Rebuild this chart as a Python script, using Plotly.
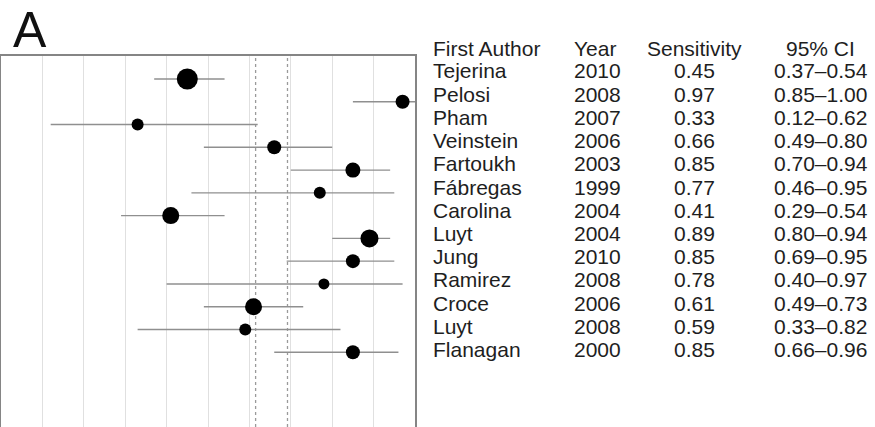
import plotly.graph_objects as go

# Study-level sensitivity with 95% confidence intervals
authors = ["Tejerina", "Pelosi", "Pham", "Veinstein", "Fartoukh", "Fábregas",
           "Carolina", "Luyt", "Jung", "Ramirez", "Croce", "Luyt", "Flanagan"]
years = [2010, 2008, 2007, 2006, 2003, 1999, 2004, 2004, 2010, 2008, 2006, 2008, 2000]
sensitivity = [0.45, 0.97, 0.33, 0.66, 0.85, 0.77, 0.41, 0.89, 0.85, 0.78, 0.61, 0.59, 0.85]
ci_low = [0.37, 0.85, 0.12, 0.49, 0.70, 0.46, 0.29, 0.80, 0.69, 0.40, 0.49, 0.33, 0.66]
ci_high = [0.54, 1.00, 0.62, 0.80, 0.94, 0.95, 0.54, 0.94, 0.95, 0.97, 0.73, 0.82, 0.96]
headers = ["First Author", "Year", "Sensitivity", "95% CI"]
grid_ticks = [0.1, 0.2, 0.3, 0.4, 0.5, 0.6, 0.7, 0.8, 0.9]
summary_lines = [0.615, 0.692]

# marker diameter (px) per study, reflecting study weight
dot_size = [21, 14, 12, 14, 15, 12, 17, 18, 14, 11, 17, 12, 14]

W, H = 875, 427
FONT = "Liberation Sans, Arial, sans-serif"
TXT = "#1e1e1e"

rows = list(range(len(authors)))
row0_px, row_step = 79.0, 22.77
plot_top, plot_left, plot_right = 55.5, 1.0, 415.0
y_top = -(row0_px - plot_top) / row_step
y_bot = (H - row0_px) / row_step

fig = go.Figure()

for xv in summary_lines:
    fig.add_vline(x=xv, line=dict(color="#9a9a9a", width=1.3, dash="dot"), layer="below")

# confidence interval bars
fig.add_trace(go.Scatter(
    x=sensitivity, y=rows, mode="markers",
    marker=dict(size=1, color="rgba(0,0,0,0)"),
    error_x=dict(type="data", symmetric=False,
                 array=[h - s for h, s in zip(ci_high, sensitivity)],
                 arrayminus=[s - l for s, l in zip(sensitivity, ci_low)],
                 color="#8f8f8f", thickness=1.4, width=0),
    hoverinfo="skip", showlegend=False, cliponaxis=False,
))

# point estimates
fig.add_trace(go.Scatter(
    x=sensitivity, y=rows, mode="markers", opacity=1,
    marker=dict(size=dot_size, color="#000000", opacity=1, line=dict(width=0)),
    hoverinfo="skip", showlegend=False, cliponaxis=False,
))

# table of study details to the right of the plot
def py(px):
    return 1 - px / H

col_x = [431.0, 572.0, 694.0, 820.5]
col_anchor = ["left", "left", "center", "center"]
text_row0, text_step, header_px = 71.0, 23.2, 48.7

annotations = []
for j, h in enumerate(headers):
    annotations.append(dict(x=col_x[j] / W, y=py(header_px), xref="paper", yref="paper",
                            text=h, showarrow=False, xanchor=col_anchor[j], yanchor="middle",
                            font=dict(family=FONT, size=21, color=TXT)))
for i in rows:
    cells = [authors[i], str(years[i]), f"{sensitivity[i]:.2f}",
             f"{ci_low[i]:.2f}–{ci_high[i]:.2f}"]
    for j, c in enumerate(cells):
        annotations.append(dict(x=col_x[j] / W, y=py(text_row0 + text_step * i),
                                xref="paper", yref="paper", text=c, showarrow=False,
                                xanchor=col_anchor[j], yanchor="middle",
                                font=dict(family=FONT, size=21, color=TXT)))

annotations.append(dict(x=11 / W, y=1.0, xref="paper", yref="paper", text="A",
                        showarrow=False, xanchor="left", yanchor="top",
                        font=dict(family=FONT, size=50, color="#111111")))

fig.update_layout(
    width=W, height=H,
    margin=dict(l=0, r=0, t=0, b=0),
    paper_bgcolor="white", plot_bgcolor="white",
    annotations=annotations,
    xaxis=dict(domain=[plot_left / W, plot_right / W], range=[0, 1],
               tickvals=grid_ticks, showticklabels=False, ticks="",
               showgrid=True, gridcolor="#e0e0e0", gridwidth=1, zeroline=False,
               showline=True, side="top", linecolor="#858585", linewidth=1.6, mirror=False),
    yaxis=dict(domain=[0, 1 - plot_top / H], range=[y_bot, y_top],
               showticklabels=False, ticks="", showgrid=False, zeroline=False,
               showline=True, linecolor="#858585", linewidth=1.6, mirror=True),
)

fig.write_html("out.html")
